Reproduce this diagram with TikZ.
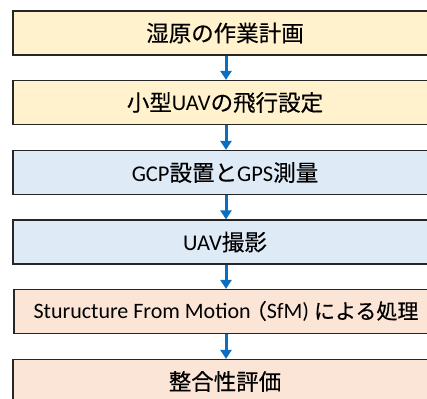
\documentclass[tikz,border=0pt]{standalone}
\usepackage{fontspec}
\setmainfont{Noto Sans CJK JP}[FakeBold=0.3]
\newfontfamily\lat{Carlito}
\usetikzlibrary{arrows.meta}
\definecolor{yel}{HTML}{FFF2CC}
\definecolor{blu}{HTML}{DEEBF7}
\definecolor{pch}{HTML}{FBE5D6}
\definecolor{arr}{HTML}{0A6FC2}
\begin{document}
\begin{tikzpicture}[x=1pt,y=1pt,
  stepbox/.style={draw=black!85,line width=1.2pt,minimum width=424pt,minimum height=44pt,inner sep=0pt,font=\fontsize{22.5}{26}\selectfont},
  flow/.style={draw=arr,line width=3pt,-{Triangle[length=9pt,width=11pt]}}]
\useasboundingbox (0,0) rectangle (427,398);
\clip (0,0) rectangle (427,398);
\fill[white] (0,0) rectangle (427,398);
\node[stepbox,fill=yel] (b1) at (225,365) {湿原の作業計画};
\node[stepbox,fill=yel] (b2) at (225,295.5) {小型{\lat UAV}の飛行設定};
\node[stepbox,fill=blu] (b3) at (225,225.5) {{\lat GCP}設置と{\lat GPS}測量};
\node[stepbox,fill=blu] (b4) at (225,156) {{\lat UAV}撮影};
\node[stepbox,fill=pch,font=\fontsize{21}{24}\selectfont] (b5) at (226,86.5) {{\fontsize{22}{26}\selectfont\lat Sturucture From Motion}\hspace{-5pt}（{\fontsize{22}{26}\selectfont\lat SfM) }による処理};
\node[stepbox,fill=pch] (b6) at (225,16.5) {整合性評価};
\foreach \a/\b in {b1/b2,b2/b3,b3/b4,b4/b5,b5/b6}
  \draw[flow] (\a.south -| 226,0) -- (\b.north -| 226,0);
\end{tikzpicture}
\end{document}
